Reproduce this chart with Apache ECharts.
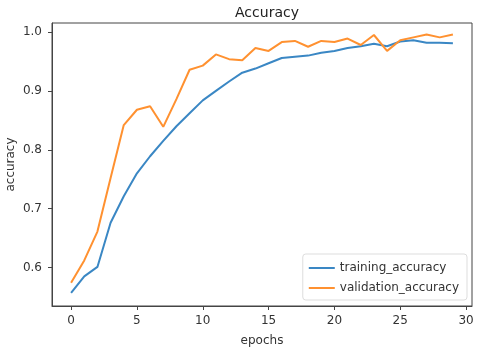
<!DOCTYPE html>
<html>
<head>
    <meta charset="UTF-8">
    <title>Accuracy</title>
    <script src="https://cdn.jsdelivr.net/npm/echarts@6/dist/echarts.min.js"></script>
    <style>
        html, body { margin: 0; padding: 0; background: #fff; }
        #main { width: 480px; height: 353px; }
    </style>
</head>
<body>
    <div id="main"></div>
    <script type="text/javascript">
        // epochs 0..29
        var epochs = [0,1,2,3,4,5,6,7,8,9,10,11,12,13,14,15,16,17,18,19,20,21,22,23,24,25,26,27,28,29];
        var trainAcc = [0.557,0.585,0.601,0.676,0.721,0.760,0.789,0.815,0.840,0.862,0.884,0.900,0.916,0.931,0.938,0.947,0.956,0.958,0.960,0.965,0.968,0.973,0.976,0.980,0.976,0.984,0.986,0.982,0.982,0.981];
        var valAcc = [0.574,0.612,0.661,0.752,0.842,0.868,0.874,0.839,0.886,0.936,0.943,0.962,0.954,0.952,0.973,0.968,0.983,0.985,0.975,0.985,0.983,0.989,0.978,0.995,0.968,0.986,0.991,0.996,0.991,0.996];
        var xTicks = [0,5,10,15,20,25,30];
        var yTicks = [0.6,0.7,0.8,0.9,1.0];

        function pairs(ys) {
            return epochs.map(function (e, i) { return [e, ys[i]]; });
        }

        var chart = echarts.init(document.getElementById('main'));
        var font = 'DejaVu Sans';
        var option = {
            animation: false,
            title: {
                text: 'Accuracy',
                left: 262, top: 1,
                textAlign: 'center',
                textStyle: { fontFamily: font, fontSize: 14, fontWeight: 'normal', color: '#222' }
            },
            grid: {
                left: 52, right: 8, top: 23, bottom: 47,
                outerBoundsMode: 'none',
                containLabel: false,
                show: true, borderColor: '#444', borderWidth: 1, backgroundColor: '#fff'
            },
            legend: {
                right: 13, bottom: 53,
                orient: 'vertical',
                itemWidth: 26, itemHeight: 2, itemGap: 8,
                icon: 'rect',
                padding: [8, 8, 6, 6],
                borderColor: '#ddd', borderWidth: 1, borderRadius: 3,
                backgroundColor: '#fff',
                textStyle: { fontFamily: font, fontSize: 12, color: '#333' },
                data: ['training_accuracy', 'validation_accuracy']
            },
            xAxis: {
                type: 'value',
                min: -1.45, max: 30.45,
                name: 'epochs', nameLocation: 'middle', nameGap: 29,
                nameTextStyle: { fontFamily: font, fontSize: 12, color: '#333' },
                splitLine: { show: false },
                axisLine: { show: true, onZero: false, lineStyle: { color: '#444' } },
                axisTick: { show: true, length: 4, customValues: xTicks, lineStyle: { color: '#444' } },
                axisLabel: { customValues: xTicks, fontFamily: font, fontSize: 12, color: '#333', margin: 9 }
            },
            yAxis: {
                type: 'value',
                min: 0.5346, max: 1.0154,
                name: 'accuracy', nameLocation: 'middle', nameGap: 35,
                nameMoveOverlap: false,
                nameTextStyle: { fontFamily: font, fontSize: 12, color: '#333' },
                splitLine: { show: false },
                axisLine: { show: true, onZero: false, lineStyle: { color: '#444' } },
                axisTick: { show: true, length: 4, customValues: yTicks, lineStyle: { color: '#444' } },
                axisLabel: {
                    customValues: yTicks, fontFamily: font, fontSize: 12, color: '#333', margin: 10,
                    formatter: function (v) { return v.toFixed(1); }
                }
            },
            series: [
                {
                    name: 'training_accuracy',
                    type: 'line',
                    data: pairs(trainAcc),
                    showSymbol: false,
                    itemStyle: { color: '#3a87c4' },
                    lineStyle: { width: 2, color: '#3a87c4' }
                },
                {
                    name: 'validation_accuracy',
                    type: 'line',
                    data: pairs(valAcc),
                    showSymbol: false,
                    itemStyle: { color: '#ff9130' },
                    lineStyle: { width: 2, color: '#ff9130' }
                }
            ]
        };
        chart.setOption(option);
    </script>
</body>
</html>
